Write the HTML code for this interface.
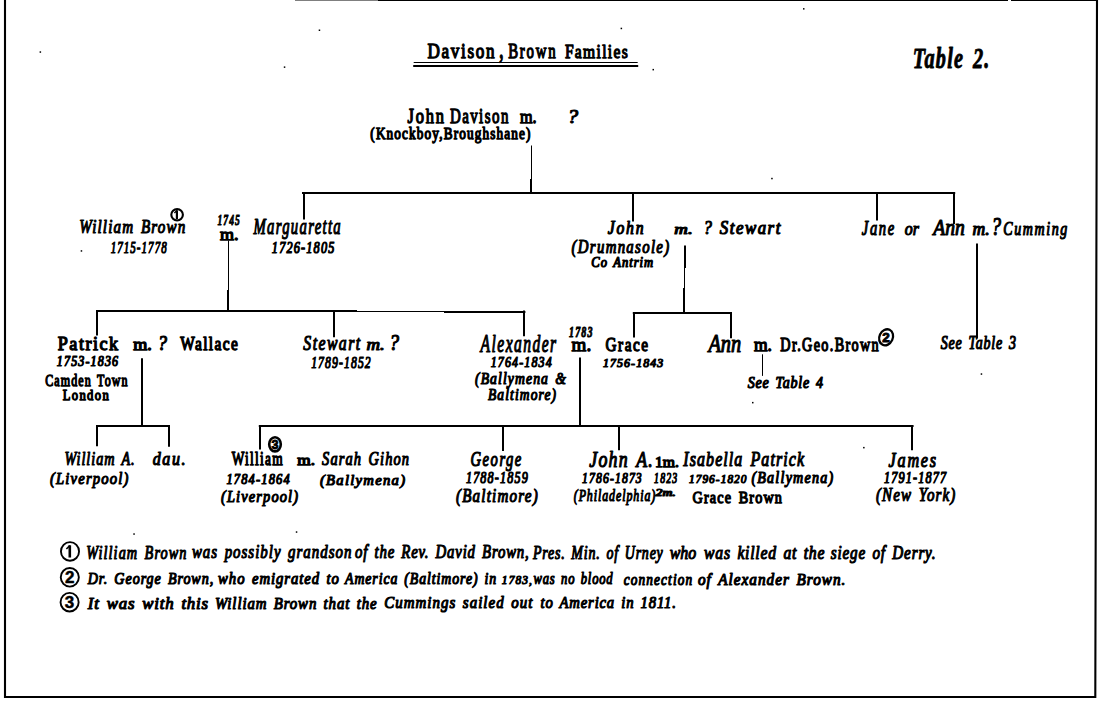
<!DOCTYPE html>
<html><head><meta charset="utf-8"><style>
html,body{margin:0;padding:0;background:#fff;}
body{width:1101px;height:708px;overflow:hidden;}
svg{display:block;}
.a{font-family:"Liberation Serif", serif;font-style:italic;font-weight:normal;fill:#000;stroke:#000;stroke-width:1.2;stroke-linejoin:round;}
.b{font-family:"Liberation Serif", serif;font-style:normal;font-weight:normal;fill:#000;stroke:#000;stroke-width:1.3;stroke-linejoin:round;}
.c{font-family:"Liberation Serif", serif;font-style:italic;font-weight:bold;fill:#000;stroke:#000;stroke-width:0.9;stroke-linejoin:round;}

.n{font-family:"Liberation Sans",sans-serif;font-weight:bold;fill:#000;stroke:#000;stroke-width:0.9;}
line{stroke:#000;stroke-linecap:square;}
ellipse{fill:none;stroke:#000;}
</style></head><body>
<svg width="1101" height="708" viewBox="0 0 1101 708">
<rect x="0" y="0" width="1101" height="708" fill="#fff"/>
<path d="M1097 0 L1095.3 697 L5 697 L5 0" fill="none" stroke="#000" stroke-width="2.1"/>
<path d="M378 0.5 L1008 0.5 M1011 0.5 L1097 0.5" fill="none" stroke="#000" stroke-width="1.2"/>
<path d="M295 0.5 L378 0.5" fill="none" stroke="#000" stroke-opacity="0.5" stroke-width="1"/>
<line x1="531.5" y1="146" x2="531.5" y2="181" stroke-width="1"/>
<line x1="531.0" y1="180" x2="531.0" y2="192.5" stroke-width="2"/>
<line x1="303" y1="193.0" x2="954.2" y2="193.0" stroke-width="2"/>
<line x1="304.0" y1="193" x2="304.0" y2="218.4" stroke-width="2"/>
<line x1="633.0" y1="193" x2="633.0" y2="220.6" stroke-width="2"/>
<line x1="877.0" y1="193" x2="877.0" y2="219.6" stroke-width="2"/>
<line x1="954.0" y1="193" x2="954.0" y2="223" stroke-width="2"/>
<line x1="228.5" y1="241" x2="228.5" y2="292" stroke-width="1"/>
<line x1="228.0" y1="291" x2="228.0" y2="310.5" stroke-width="2"/>
<line x1="97.0" y1="311.0" x2="356" y2="311.0" stroke-width="2"/>
<line x1="356" y1="311.5" x2="445" y2="311.5" stroke-width="1"/>
<line x1="445" y1="312.0" x2="524.4" y2="312.0" stroke-width="2"/>
<line x1="97.0" y1="311.0" x2="97.0" y2="334.5" stroke-width="2"/>
<line x1="334.0" y1="311.0" x2="334.0" y2="336.3" stroke-width="2"/>
<line x1="524.0" y1="311.5" x2="524.0" y2="335.3" stroke-width="2"/>
<line x1="685.0" y1="246.5" x2="685.0" y2="267" stroke-width="2"/>
<line x1="684.5" y1="267" x2="684.5" y2="289" stroke-width="1"/>
<line x1="684.0" y1="289" x2="684.0" y2="312.5" stroke-width="2"/>
<line x1="633.8" y1="313.0" x2="730.9" y2="313.0" stroke-width="2"/>
<line x1="634.0" y1="313" x2="634.0" y2="336.5" stroke-width="2"/>
<line x1="731.0" y1="313" x2="731.0" y2="337.2" stroke-width="2"/>
<line x1="977.0" y1="244.5" x2="977.0" y2="337.5" stroke-width="2"/>
<line x1="762.5" y1="354.8" x2="762.5" y2="375.4" stroke-width="1"/>
<line x1="142.0" y1="359.3" x2="142.0" y2="425.5" stroke-width="2"/>
<line x1="97.0" y1="426.0" x2="169.0" y2="426.0" stroke-width="2"/>
<line x1="97.0" y1="425.9" x2="97.0" y2="445.3" stroke-width="2"/>
<line x1="169.0" y1="425.9" x2="169.0" y2="445.8" stroke-width="2"/>
<line x1="580.0" y1="358.5" x2="580.0" y2="425.5" stroke-width="2"/>
<line x1="259.8" y1="426.0" x2="912.6" y2="426.0" stroke-width="2"/>
<line x1="260.0" y1="426" x2="260.0" y2="448.4" stroke-width="2"/>
<line x1="503.0" y1="426" x2="503.0" y2="450.0" stroke-width="2"/>
<line x1="619.0" y1="426" x2="619.0" y2="449.2" stroke-width="2"/>
<line x1="912.0" y1="426" x2="912.0" y2="449.2" stroke-width="2"/>
<line x1="414.2" y1="62.5" x2="637.2" y2="62.5" stroke-width="1"/>
<line x1="414.2" y1="66.0" x2="637.2" y2="66.0" stroke-width="2"/>
<ellipse cx="177.1" cy="214.8" rx="5.8" ry="5.7" transform="rotate(0 177.1 214.8)" stroke-width="2.1"/>
<path d="M176.90 210.30 L176.90 219.30" stroke="#000" stroke-width="2.2" fill="none"/>
<path d="M176.90 210.60 L174.38 213.00" stroke="#000" stroke-width="1.32" fill="none"/>
<ellipse cx="886.1" cy="337.3" rx="6.7" ry="8.3" transform="rotate(25 886.1 337.3)" stroke-width="2.3"/>
<text class="n" x="886.1" y="342.13" font-size="13.50" text-anchor="middle" style="stroke-width:0.9">2</text>
<ellipse cx="275.0" cy="444.3" rx="5.8" ry="7.1" transform="rotate(0 275.0 444.3)" stroke-width="2.6"/>
<text class="n" x="275.0" y="448.78" font-size="12.50" text-anchor="middle" style="stroke-width:0.9">3</text>
<ellipse cx="70.0" cy="551.4" rx="9.05" ry="9.3" transform="rotate(0 70.0 551.4)" stroke-width="1.9"/>
<path d="M69.80 545.28 L69.80 557.52" stroke="#000" stroke-width="2.6" fill="none"/>
<path d="M69.80 545.58 L66.37 548.95" stroke="#000" stroke-width="1.56" fill="none"/>
<ellipse cx="69.8" cy="577.3" rx="9.05" ry="9.3" transform="rotate(0 69.8 577.3)" stroke-width="1.9"/>
<text class="n" x="69.8" y="583.39" font-size="17.00" text-anchor="middle" style="stroke-width:0.5">2</text>
<ellipse cx="69.6" cy="602.2" rx="9.05" ry="9.3" transform="rotate(0 69.6 602.2)" stroke-width="1.9"/>
<text class="n" x="69.6" y="608.29" font-size="17.00" text-anchor="middle" style="stroke-width:0.5">3</text>
<rect x="39.6" y="51.3" width="1.5" height="1.5" fill="#000"/>
<rect x="318.7" y="29.5" width="1.5" height="1.5" fill="#000"/>
<rect x="283.8" y="66.4" width="1.5" height="1.5" fill="#000"/>
<rect x="620.6" y="27.7" width="1.5" height="1.5" fill="#000"/>
<rect x="652.5" y="68.9" width="1.5" height="1.5" fill="#000"/>
<rect x="803.0" y="8.1" width="1.5" height="1.5" fill="#000"/>
<rect x="771.2" y="177.8" width="1.5" height="1.5" fill="#000"/>
<rect x="80.7" y="250.2" width="1.5" height="1.5" fill="#000"/>
<rect x="980.7" y="373.3" width="1.5" height="1.5" fill="#000"/>
<rect x="752.0" y="401.9" width="1.5" height="1.5" fill="#000"/>
<rect x="863.1" y="446.9" width="1.5" height="1.5" fill="#000"/>
<rect x="133.3" y="533.3" width="1.5" height="1.5" fill="#000"/>
<rect x="295.8" y="531.3" width="1.5" height="1.5" fill="#000"/>
<text class="b" font-size="20.76" letter-spacing="2.017" transform="translate(427.56 57.90) scale(0.824 1)">Davison</text>
<text class="b" font-size="29.00" transform="translate(498.94 57.90) scale(0.647 1)">,</text>
<text class="b" font-size="21.08" letter-spacing="2.503" transform="translate(508.20 57.90) scale(0.703 1)">Brown</text>
<text class="b" font-size="19.86" letter-spacing="1.699" transform="translate(564.89 57.90) scale(0.783 1)">Families</text>
<text class="c" font-size="28.41" letter-spacing="1.726" word-spacing="3.409" transform="translate(912.78 67.60) scale(0.713 1)">Table 2.</text>
<text class="b" font-size="20.58" letter-spacing="2.251" transform="translate(407.57 123.20) scale(0.800 1)">John</text>
<text class="b" font-size="21.52" letter-spacing="2.090" transform="translate(449.90 123.20) scale(0.694 1)">Davison</text>
<text class="b" font-size="19.36" transform="translate(519.88 122.90) scale(0.834 1)">m.</text>
<text class="a" font-size="19.85" transform="translate(567.44 122.90) scale(1.064 1)">?</text>
<text class="b" font-size="16.29" letter-spacing="1.397" transform="translate(370.37 138.60) scale(0.813 1)">(Knockboy,Broughshane)</text>
<text class="a" font-size="19.71" letter-spacing="1.510" word-spacing="2.365" transform="translate(79.30 232.80) scale(0.765 1)">William Brown</text>
<text class="a" font-size="17.42" letter-spacing="1.650" transform="translate(110.67 253.00) scale(0.632 1)">1715-1778</text>
<text class="c" font-size="15.15" letter-spacing="1.747" transform="translate(217.41 225.20) scale(0.630 1)">1745</text>
<text class="b" font-size="17.23" transform="translate(220.04 239.70) scale(1.047 1)">m.</text>
<text class="a" font-size="23.08" letter-spacing="2.047" transform="translate(253.39 234.30) scale(0.639 1)">Marguaretta</text>
<text class="a" font-size="15.91" letter-spacing="1.503" transform="translate(271.83 253.40) scale(0.773 1)">1726-1805</text>
<text class="a" font-size="17.97" letter-spacing="2.002" transform="translate(607.84 234.40) scale(0.872 1)">John</text>
<text class="a" font-size="14.47" transform="translate(674.34 234.40) scale(1.298 1)">m.</text>
<text class="a" font-size="18.79" transform="translate(703.57 234.40) scale(0.887 1)">?</text>
<text class="a" font-size="18.18" letter-spacing="1.641" transform="translate(719.73 234.40) scale(0.928 1)">Stewart</text>
<text class="a" font-size="18.57" letter-spacing="1.656" transform="translate(571.56 253.00) scale(0.798 1)">(Drumnasole)</text>
<text class="a" font-size="13.64" letter-spacing="1.033" word-spacing="1.636" transform="translate(591.37 267.00) scale(0.923 1)">Co Antrim</text>
<text class="a" font-size="20.92" letter-spacing="2.294" transform="translate(861.85 234.60) scale(0.697 1)">Jane</text>
<text class="a" font-size="18.75" transform="translate(904.68 234.60) scale(0.848 1)">or</text>
<text class="a" font-size="23.64" transform="translate(933.18 234.60) scale(0.830 1)">Ann</text>
<text class="a" font-size="18.30" transform="translate(972.47 234.60) scale(0.962 1)">m.</text>
<text class="a" font-size="25.15" transform="translate(991.28 234.60) scale(0.773 1)">?</text>
<text class="a" font-size="19.09" letter-spacing="2.144" transform="translate(1003.30 234.60) scale(0.734 1)">Cumming</text>
<text class="b" font-size="19.28" letter-spacing="1.594" transform="translate(57.74 350.00) scale(0.942 1)">Patrick</text>
<text class="b" font-size="16.17" transform="translate(133.14 350.00) scale(1.116 1)">m.</text>
<text class="a" font-size="20.15" transform="translate(157.63 350.00) scale(0.910 1)">?</text>
<text class="b" font-size="17.97" letter-spacing="1.671" transform="translate(180.20 350.00) scale(0.856 1)">Wallace</text>
<text class="a" font-size="14.39" letter-spacing="1.366" transform="translate(56.84 366.20) scale(0.837 1)">1753-1836</text>
<text class="b" font-size="16.67" letter-spacing="1.505" word-spacing="2.000" transform="translate(45.22 386.30) scale(0.722 1)">Camden Town</text>
<text class="b" font-size="15.22" letter-spacing="1.655" transform="translate(62.65 399.60) scale(0.830 1)">London</text>
<text class="a" font-size="20.45" letter-spacing="1.846" transform="translate(303.34 350.00) scale(0.772 1)">Stewart</text>
<text class="a" font-size="17.02" transform="translate(366.44 350.00) scale(1.103 1)">m.</text>
<text class="a" font-size="22.73" transform="translate(389.28 350.00) scale(0.856 1)">?</text>
<text class="a" font-size="17.42" letter-spacing="1.646" transform="translate(311.15 367.50) scale(0.672 1)">1789-1852</text>
<text class="a" font-size="25.22" letter-spacing="2.325" transform="translate(480.54 352.40) scale(0.619 1)">Alexander</text>
<text class="a" font-size="15.45" letter-spacing="1.460" transform="translate(490.64 367.40) scale(0.778 1)">1764-1834</text>
<text class="a" font-size="16.29" letter-spacing="1.288" word-spacing="1.954" transform="translate(474.99 384.20) scale(0.843 1)">(Ballymena &amp;</text>
<text class="a" font-size="16.29" letter-spacing="1.364" transform="translate(488.00 399.80) scale(0.828 1)">Baltimore)</text>
<text class="c" font-size="13.64" letter-spacing="1.572" transform="translate(569.00 336.60) scale(0.731 1)">1783</text>
<text class="b" font-size="19.15" transform="translate(571.62 350.60) scale(0.992 1)">m.</text>
<text class="b" font-size="18.94" letter-spacing="1.933" transform="translate(605.49 350.50) scale(0.805 1)">Grace</text>
<text class="a" font-size="12.58" letter-spacing="1.185" transform="translate(602.94 367.10) scale(0.943 1)">1756-1843</text>
<text class="a" font-size="25.30" transform="translate(708.42 351.90) scale(0.805 1)">Ann</text>
<text class="b" font-size="18.09" transform="translate(753.95 350.50) scale(0.968 1)">m.</text>
<text class="b" font-size="18.94" letter-spacing="1.780" transform="translate(780.32 350.50) scale(0.751 1)">Dr.Geo.Brown</text>
<text class="a" font-size="16.09" letter-spacing="0.904" word-spacing="1.930" transform="translate(747.76 387.90) scale(0.870 1)">See Table 4</text>
<text class="a" font-size="18.55" letter-spacing="1.039" word-spacing="2.226" transform="translate(940.86 348.50) scale(0.753 1)">See Table 3</text>
<text class="a" font-size="19.71" letter-spacing="1.311" word-spacing="2.365" transform="translate(64.55 465.20) scale(0.722 1)">William A.</text>
<text class="a" font-size="18.70" letter-spacing="1.793" transform="translate(152.82 465.20) scale(0.856 1)">dau.</text>
<text class="a" font-size="17.57" letter-spacing="1.396" transform="translate(49.96 483.60) scale(0.835 1)">(Liverpool)</text>
<text class="b" font-size="18.41" letter-spacing="1.748" transform="translate(231.70 465.40) scale(0.728 1)">William</text>
<text class="b" font-size="15.32" transform="translate(297.36 465.40) scale(1.123 1)">m.</text>
<text class="a" font-size="18.41" letter-spacing="1.432" word-spacing="2.209" transform="translate(322.06 465.40) scale(0.783 1)">Sarah Gihon</text>
<text class="a" font-size="15.15" letter-spacing="1.431" transform="translate(226.43 483.60) scale(0.821 1)">1784-1864</text>
<text class="a" font-size="15.57" letter-spacing="1.344" transform="translate(319.96 484.50) scale(0.942 1)">(Ballymena)</text>
<text class="a" font-size="16.86" letter-spacing="1.339" transform="translate(220.97 501.80) scale(0.855 1)">(Liverpool)</text>
<text class="a" font-size="20.15" letter-spacing="2.061" transform="translate(470.57 465.70) scale(0.726 1)">George</text>
<text class="a" font-size="16.52" letter-spacing="1.564" transform="translate(465.94 483.00) scale(0.735 1)">1788-1859</text>
<text class="a" font-size="19.00" letter-spacing="1.534" transform="translate(455.95 501.80) scale(0.793 1)">(Baltimore)</text>
<text class="a" font-size="22.32" letter-spacing="1.493" word-spacing="2.678" transform="translate(589.32 466.60) scale(0.799 1)">John A.</text>
<text class="b" font-size="15.45" transform="translate(654.94 467.20) scale(1.016 1)">1m.</text>
<text class="a" font-size="21.30" letter-spacing="1.444" word-spacing="2.557" transform="translate(683.26 466.30) scale(0.751 1)">Isabella Patrick</text>
<text class="a" font-size="15.30" letter-spacing="1.442" transform="translate(582.05 483.10) scale(0.767 1)">1786-1873</text>
<text class="a" font-size="15.15" letter-spacing="1.729" transform="translate(654.11 483.00) scale(0.648 1)">1823</text>
<text class="a" font-size="12.88" letter-spacing="1.220" transform="translate(688.96 482.50) scale(0.878 1)">1796-1820</text>
<text class="a" font-size="16.43" letter-spacing="1.418" transform="translate(751.38 483.20) scale(0.858 1)">(Ballymena)</text>
<text class="a" font-size="17.71" letter-spacing="1.390" transform="translate(573.74 501.40) scale(0.672 1)">(Philadelphia)</text>
<text class="a" font-size="9.70" transform="translate(655.60 496.00) scale(1.410 1)">2m.</text>
<text class="b" font-size="17.42" letter-spacing="1.423" word-spacing="2.091" transform="translate(692.53 502.50) scale(0.816 1)">Grace Brown</text>
<text class="a" font-size="21.23" letter-spacing="2.304" transform="translate(888.54 466.70) scale(0.765 1)">James</text>
<text class="a" font-size="15.76" letter-spacing="1.510" transform="translate(883.93 482.50) scale(0.774 1)">1791-1877</text>
<text class="a" font-size="19.71" letter-spacing="1.453" word-spacing="2.366" transform="translate(875.95 501.30) scale(0.764 1)">(New York)</text>
<text class="a" font-size="19.60" letter-spacing="1.502" word-spacing="2.352" transform="translate(86.24 558.60) scale(0.728 1)">William Brown</text>
<text class="a" font-size="19.30" letter-spacing="1.310" word-spacing="2.316" transform="translate(191.90 558.00) scale(0.772 1)">was possibly grandson</text>
<text class="a" font-size="19.30" letter-spacing="1.066" word-spacing="2.316" transform="translate(355.10 558.30) scale(0.766 1)">of the Rev. David Brown,</text>
<text class="a" font-size="19.30" letter-spacing="1.118" word-spacing="2.316" transform="translate(532.94 558.60) scale(0.721 1)">Pres. Min. of Urney</text>
<text class="a" font-size="19.30" transform="translate(669.68 558.50) scale(0.822 1)">who</text>
<text class="a" font-size="19.30" letter-spacing="0.948" word-spacing="2.316" transform="translate(704.09 558.50) scale(0.813 1)">was killed at the</text>
<text class="a" font-size="19.30" letter-spacing="1.084" word-spacing="2.316" transform="translate(830.65 558.50) scale(0.784 1)">siege of Derry.</text>
<text class="a" font-size="16.80" letter-spacing="1.147" word-spacing="2.016" transform="translate(87.68 583.60) scale(0.838 1)">Dr. George Brown,</text>
<text class="a" font-size="16.80" letter-spacing="1.107" word-spacing="2.016" transform="translate(218.11 583.80) scale(0.875 1)">who emigrated to</text>
<text class="a" font-size="16.80" letter-spacing="1.123" word-spacing="2.016" transform="translate(345.03 584.30) scale(0.823 1)">America (Baltimore) in</text>
<text class="a" font-size="13.50" letter-spacing="1.286" transform="translate(501.86 584.30) scale(0.845 1)">1783,</text>
<text class="a" font-size="16.80" letter-spacing="1.068" word-spacing="2.016" transform="translate(533.55 584.30) scale(0.751 1)">was no blood</text>
<text class="a" font-size="16.80" letter-spacing="1.422" transform="translate(623.80 584.50) scale(0.791 1)">connection</text>
<text class="a" font-size="16.80" letter-spacing="1.120" word-spacing="2.016" transform="translate(698.00 584.50) scale(0.906 1)">of Alexander Brown.</text>
<text class="a" font-size="17.40" letter-spacing="0.824" word-spacing="2.088" transform="translate(87.87 608.50) scale(0.966 1)">It was with this</text>
<text class="a" font-size="17.40" letter-spacing="1.046" word-spacing="2.088" transform="translate(214.91 608.50) scale(0.854 1)">William Brown that the</text>
<text class="a" font-size="17.40" letter-spacing="1.204" word-spacing="2.088" transform="translate(384.15 608.30) scale(0.858 1)">Cummings sailed out</text>
<text class="a" font-size="17.40" letter-spacing="0.972" word-spacing="2.088" transform="translate(540.51 608.30) scale(0.844 1)">to America in 1811.</text>
</svg>
</body></html>
